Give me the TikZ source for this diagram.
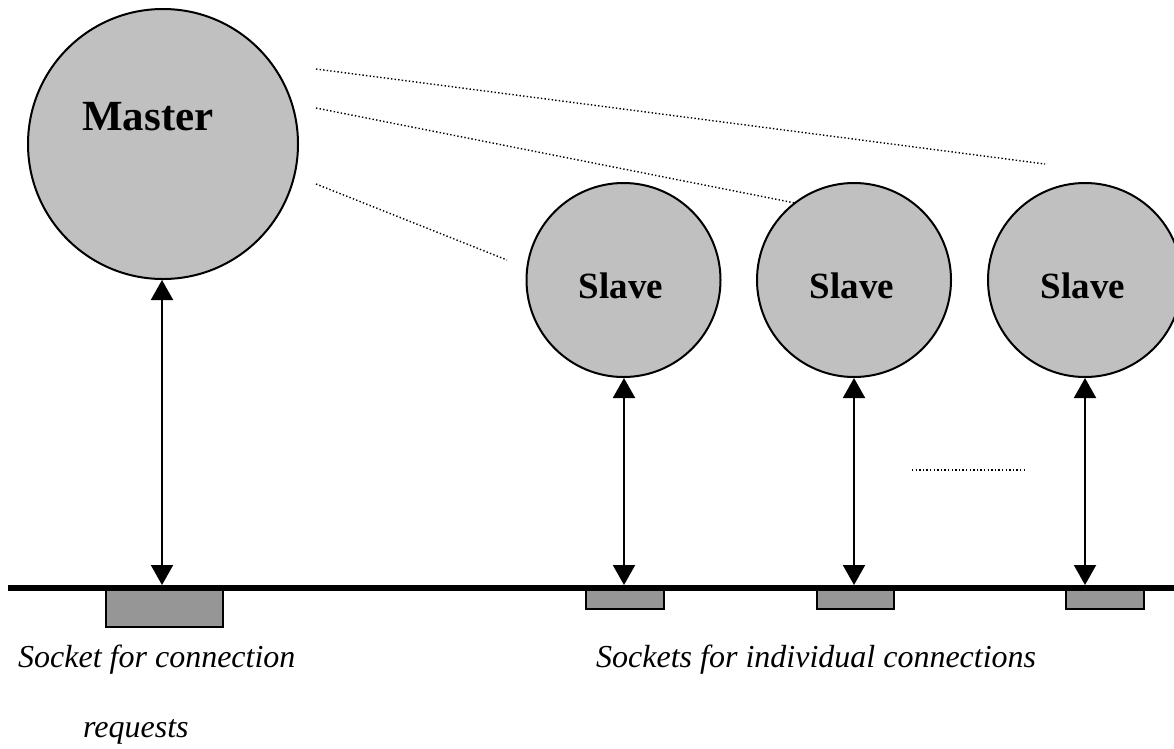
\documentclass[tikz,border=0pt]{standalone}
\usepackage{fontspec}
\setmainfont{Liberation Serif}
\usetikzlibrary{arrows.meta}
\definecolor{circfill}{RGB}{192,192,192}
\definecolor{sockfill}{RGB}{150,150,150}
\tikzset{
  big/.style={circle, draw=black, line width=2pt, fill=circfill, minimum size=270pt, inner sep=0pt},
  small/.style={circle, draw=black, line width=2pt, fill=circfill, minimum size=194pt, inner sep=0pt},
  sock/.style={rectangle, draw=black, line width=1.5pt, fill=sockfill, inner sep=0pt, anchor=north west},
  conn/.style={line width=2pt, {Triangle[width=22pt,length=20pt]}-{Triangle[width=22pt,length=20pt]}},
  dots/.style={line width=1.4pt, dash pattern=on 1.4pt off 2.2pt},
  lbl/.style={inner sep=0pt, anchor=base west, font=\fontsize{32}{38}\selectfont\itshape},
  ctitle/.style={inner sep=0pt, anchor=base, font=\fontsize{37}{44}\selectfont\bfseries}
}
\begin{document}
\begin{tikzpicture}[x=1pt,y=-1pt]
\useasboundingbox (0,0) rectangle (1174,748);
% circles
\node[big] (m) at (163,144) {};
\node[inner sep=0pt, anchor=base west, font=\fontsize{43}{50}\selectfont\bfseries] (mt) at (82,130) {Master};
\node[small] (s1) at (623.5,280) {};
\node[small] (s2) at (854,280) {};
\node[small] (s3) at (1085,280) {};
\node[ctitle] (t1) at (621,298) {Slave};
\node[ctitle] (t2) at (852,298) {Slave};
\node[ctitle] (t3) at (1083,298) {Slave};
% sockets
\node[sock, minimum width=117pt, minimum height=38pt] (k0) at (105,588) {};
\node[sock, minimum width=78pt, minimum height=20pt] (k1) at (585,588) {};
\node[sock, minimum width=77pt, minimum height=20pt] (k2) at (816,588) {};
\node[sock, minimum width=78pt, minimum height=20pt] (k3) at (1065,588) {};
% base line
\draw[line width=6pt] (8,588) -- (1174,588);
% connectors
\coordinate (a0) at (162,585);
\coordinate (a1) at (624,585);
\coordinate (a2) at (854,585);
\coordinate (a3) at (1085,585);
\draw[conn] (m.south -| a0) -- (a0);
\draw[conn] (s1.south -| a1) -- (a1);
\draw[conn] (s2.south) -- (a2);
\draw[conn] (s3.south) -- (a3);
% dotted lines
\coordinate (d1a) at (316,69);
\coordinate (d1b) at (1045,164);
\coordinate (d2a) at (316,108);
\coordinate (d2b) at (795,203);
\coordinate (d3a) at (316,184);
\coordinate (d3b) at (507,260);
\coordinate (d4a) at (912,470);
\coordinate (d4b) at (1025,470);
\draw[dots] (d1a) -- (d1b);
\draw[dots] (d2a) -- (d2b);
\draw[dots] (d3a) -- (d3b);
\draw[dots] (d4a) -- (d4b);
% labels
\node[lbl] (l1) at (18,667) {Socket for connection};
\node[lbl] (l2) at (83,737) {requests};
\node[lbl] (l3) at (596,667) {Sockets for individual connections};
\end{tikzpicture}
\end{document}
